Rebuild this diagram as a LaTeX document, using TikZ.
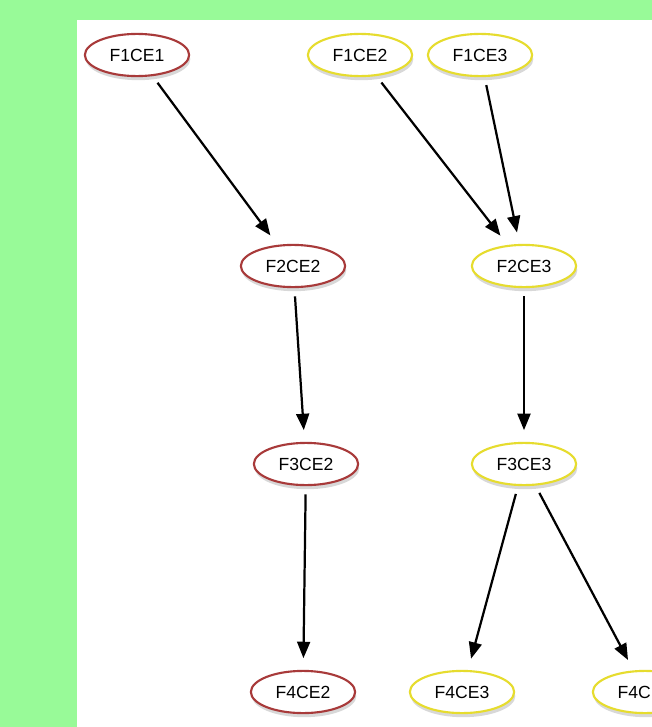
\documentclass[tikz,border=0pt]{standalone}
\usepackage{fontspec}
\setmainfont{Liberation Sans}
\usetikzlibrary{shapes.geometric,shadows,arrows.meta}
\definecolor{bggreen}{HTML}{98FA98}
\definecolor{cered}{HTML}{A83A3A}
\definecolor{ceyellow}{HTML}{E6DC2E}
\begin{document}
\begin{tikzpicture}[x=0.03cm,y=-0.03cm,
  ce/.style={ellipse,draw,line width=1.8pt,fill=white,minimum width=89pt,minimum height=36pt,inner sep=0pt,
    font=\fontsize{15}{17}\selectfont,drop shadow={opacity=0.3,shadow xshift=1pt,shadow yshift=-3.5pt}},
  redce/.style={ce,draw=cered},
  yellowce/.style={ce,draw=ceyellow},
  link/.style={-{Triangle[length=14pt,width=11pt]},line width=1.9pt,shorten <=7pt,shorten >=10pt}]
\useasboundingbox (0,0) rectangle (652,727);
\clip (0,0) rectangle (652,727);
\fill[bggreen] (0,0) rectangle (652,727);
\fill[white] (77,20) rectangle (652,727);
% nodes
\node[redce] (f1ce1) at (137,55) {F1CE1};
\node[yellowce] (f1ce2) at (360,55) {F1CE2};
\node[yellowce] (f1ce3) at (480,55) {F1CE3};
\node[redce] (f2ce2) at (293,266) {F2CE2};
\node[yellowce] (f2ce3) at (524,266) {F2CE3};
\node[redce] (f3ce2) at (306,464) {F3CE2};
\node[yellowce] (f3ce3) at (524,464) {F3CE3};
\node[redce] (f4ce2) at (303,692) {F4CE2};
\node[yellowce] (f4ce3) at (462,692) {F4CE3};
\node[yellowce] (f4ce4) at (645,692) {F4CE4};
% edges
\draw[link] (f1ce1) -- (f2ce2);
\draw[link] (f1ce2) -- (f2ce3);
\draw[link] (f1ce3) -- (f2ce3);
\draw[link] (f2ce2) -- (f3ce2);
\draw[link] (f2ce3) -- (f3ce3);
\draw[link] (f3ce2) -- (f4ce2);
\draw[link] (f3ce3) -- (f4ce3);
\draw[link] (f3ce3) -- (f4ce4);
\end{tikzpicture}
\end{document}
